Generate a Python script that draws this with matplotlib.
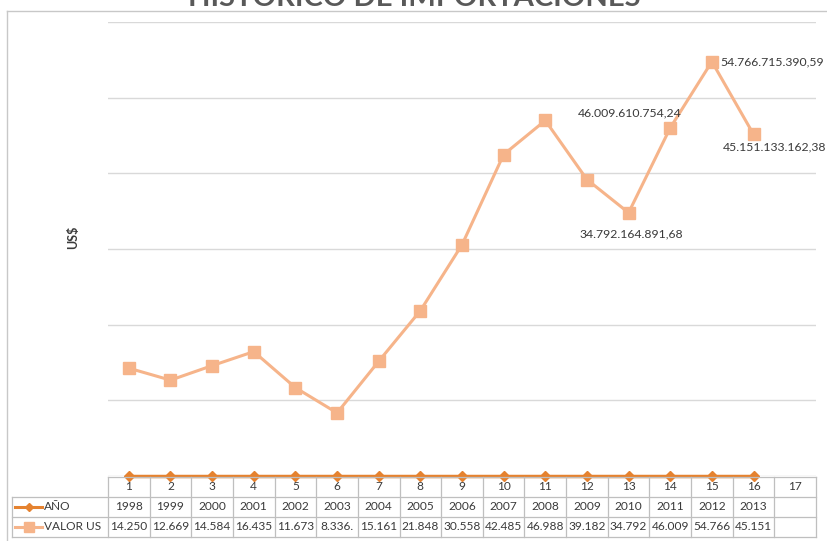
import matplotlib
matplotlib.use("Agg")
import matplotlib.pyplot as plt
from matplotlib.lines import Line2D
from matplotlib.transforms import blended_transform_factory

# ---- data ----
categories = list(range(1, 18))          # 17 category slots, last one empty
anio = [1998, 1999, 2000, 2001, 2002, 2003, 2004, 2005,
        2006, 2007, 2008, 2009, 2010, 2011, 2012, 2013]
valor_us = [14250e6, 12669e6, 14584e6, 16435e6, 11673e6, 8336e6, 15161e6,
            21848e6, 30558e6, 42485e6, 46988e6, 39182e6,
            34792164891.68, 46009610754.24, 54766715390.59, 45151133162.38]
labelled = {12: (2, -11, "center", "top"),
            13: (8, 7, "right", "bottom"),
            14: (6, 0, "left", "center"),
            15: (-22, -5, "left", "top")}
title = "HISTÓRICO DE IMPORTACIONES"
y_label = "US$"
series_names = ["AÑO", "VALOR US"]

C_ANIO = "#E5822F"
C_VALOR = "#F6B48A"
GRID = "#D9D9D9"
TXT = "#3A3A3A"
FONT = "Lato"


def es_fmt(v, dec=2):
    s = f"{v:,.{dec}f}"
    return s.replace(",", "X").replace(".", ",").replace("X", ".")


W, H = 828, 541
fig = plt.figure(figsize=(W / 100, H / 100), dpi=100)
fig.patch.set_facecolor("white")


def fx(px):
    return px / W


def fy(py):
    return 1 - py / H


# chart border
fig.add_artist(Line2D([fx(7), 1.0], [fy(11), fy(11)], transform=fig.transFigure,
                      color="#C8C8C8", lw=1))
fig.add_artist(Line2D([fx(7), fx(7)], [fy(11), 0.0], transform=fig.transFigure,
                      color="#C8C8C8", lw=1))

# title (sits above the top border)
fig.text(0.5, fy(6), title, ha="center", va="baseline", fontsize=21,
         fontweight="bold", color="#595959", family=FONT)

left, right, top, bottom = 108, 816, 22, 476
ax = fig.add_axes([fx(left), fy(bottom), fx(right) - fx(left), fy(top) - fy(bottom)])
ax.set_xlim(0.5, 17.5)
ax.set_ylim(0, 60e9)
ax.set_yticks([i * 10e9 for i in range(7)])
ax.yaxis.grid(True, color=GRID, lw=1)
ax.set_axisbelow(True)
ax.tick_params(left=False, labelleft=False, bottom=False, labelbottom=False)
for s in ax.spines.values():
    s.set_visible(False)

x = categories[:len(valor_us)]
ax.plot(x, valor_us, color=C_VALOR, lw=2.2, marker="s", ms=8.5,
        markeredgecolor=C_VALOR, markerfacecolor=C_VALOR, zorder=3, clip_on=False)
ax.plot(x, anio, color=C_ANIO, lw=2.5, marker="D", ms=5.5,
        markeredgecolor=C_ANIO, markerfacecolor=C_ANIO, zorder=4, clip_on=False)

for i, (dx, dy, ha, va) in labelled.items():
    ax.annotate(es_fmt(valor_us[i]), (x[i], valor_us[i]), xytext=(dx, dy),
                textcoords="offset points", ha=ha, va=va, fontsize=8.8,
                color=TXT, family=FONT, annotation_clip=False)

fig.text(fx(73), fy(237), y_label, rotation=90, ha="center", va="center",
         fontsize=9, fontweight="bold", color="#3A3A3A", family=FONT)

# ---- data table under the plot ----
tr = blended_transform_factory(ax.transData, fig.transFigure)
rows = [477, 497, 517, 537]
edge = "#BFBFBF"
x_lo, x_hi = 0.5, 17.5

# horizontal lines
fig.add_artist(Line2D([x_lo, x_hi], [fy(rows[0])] * 2, transform=tr, color=edge, lw=0.9))
for r in rows[1:]:
    fig.add_artist(Line2D([fx(12), fx(right)], [fy(r)] * 2, transform=fig.transFigure,
                          color=edge, lw=0.9))
# vertical lines
for k in range(18):
    xe = 0.5 + k
    fig.add_artist(Line2D([xe, xe], [fy(rows[0]), fy(rows[-1])], transform=tr,
                          color=edge, lw=0.9))
fig.add_artist(Line2D([fx(12), fx(12)], [fy(rows[1]), fy(rows[-1])],
                      transform=fig.transFigure, color=edge, lw=0.9))

cell_kw = dict(ha="center", va="center", fontsize=8.6, color=TXT, family=FONT,
               transform=tr)
for c in categories:
    fig.text(c, fy((rows[0] + rows[1]) / 2), str(c), **cell_kw)
for i, a in enumerate(anio):
    fig.text(x[i], fy((rows[1] + rows[2]) / 2), str(a), **cell_kw)
for i, v in enumerate(valor_us):
    fig.text(x[i], fy((rows[2] + rows[3]) / 2), es_fmt(v)[:6], **cell_kw)

# legend keys in the table's first column
for j, (name, col, mk, ms, lw) in enumerate([
        (series_names[0], C_ANIO, "D", 4.5, 2.2),
        (series_names[1], C_VALOR, "s", 6.5, 2.2)]):
    yc = fy((rows[1 + j] + rows[2 + j]) / 2)
    fig.add_artist(Line2D([fx(15), fx(42)], [yc, yc], transform=fig.transFigure,
                          color=col, lw=lw))
    fig.add_artist(Line2D([fx(29)], [yc], transform=fig.transFigure, color=col,
                          marker=mk, ms=ms, markerfacecolor=col, markeredgecolor=col))
    fig.text(fx(44), yc, name, ha="left", va="center", fontsize=8.6, color=TXT,
             family=FONT)

fig.savefig("out.png", dpi=100, facecolor="white")
